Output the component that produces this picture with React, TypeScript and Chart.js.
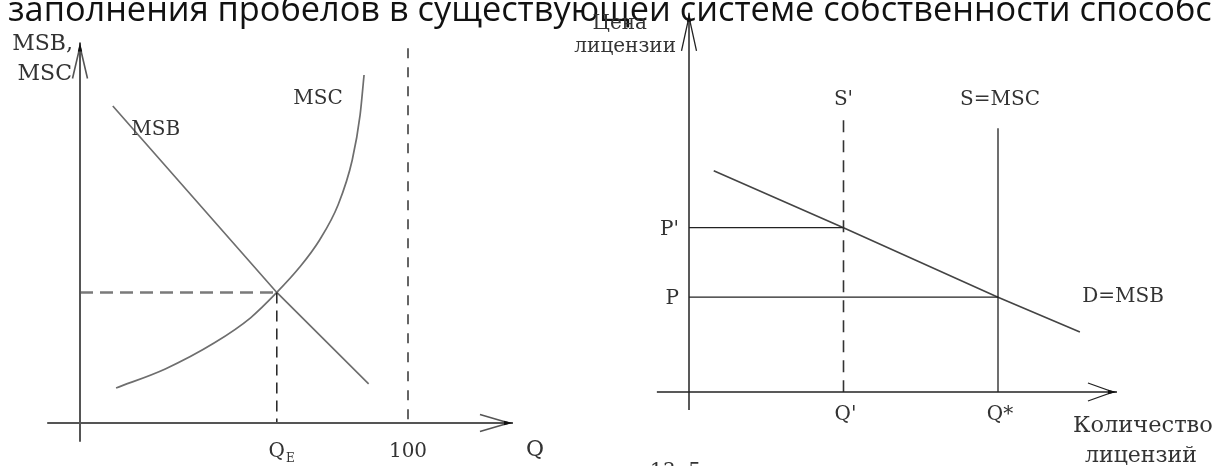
import React, { useEffect, useRef } from "react";
import { Chart, registerables } from "chart.js";

Chart.register(...registerables);

// ---------------- Left diagram (MSB / MSC) ----------------
const leftMSB = [
  { x: 10, y: 85 },
  { x: 60, y: 35 },
  { x: 88, y: 10.5 },
];
const leftMSC = [
  { x: 11, y: 9.4 },
  { x: 26, y: 14.5 },
  { x: 41, y: 21.5 },
  { x: 52, y: 28.2 },
  { x: 60, y: 35 },
  { x: 67, y: 41.8 },
  { x: 73, y: 49 },
  { x: 78.7, y: 58.5 },
  { x: 83, y: 70.5 },
  { x: 85.4, y: 82.6 },
  { x: 86.6, y: 93.3 },
];
const leftQE = 60;
const leftPE = 35;
const leftCapacityQ = 100;
const leftCapacityTop = 100.5;
const leftXAxisExtent = [-10, 132];
const leftYAxisExtent = [-5, 102];
const leftTickValues = [60, 100];
const leftTickLabels = ["Q", "100"];
const leftTickSubs = ["E", ""];
const leftYTitle = ["MSB,", "MSC"];
const leftXTitle = "Q";
const leftCurveNames = ["MSB", "MSC"];

// ---------------- Right diagram (licences) ----------------
const rightDemand = [
  { x: 8, y: 70 },
  { x: 50, y: 52 },
  { x: 100, y: 30 },
  { x: 126.5, y: 19 },
];
const rightQPrime = 50;
const rightQStar = 100;
const rightPPrime = 52;
const rightPStar = 30;
const rightSPrimeTop = 86;
const rightSTop = 83.5;
const rightXAxisExtent = [-10.4, 138.5];
const rightYAxisExtent = [-5.7, 120];
const rightXTickValues = [50, 100];
const rightXTickLabels = ["Q'", "Q*"];
const rightYTickValues = [52, 30];
const rightYTickLabels = ["P'", "P"];
const rightYTitle = ["Цена", "лицензии"];
const rightXTitle = ["Количество", "лицензий"];
const rightSupplyNames = ["S'", "S=MSC"];
const rightDemandName = "D=MSB";

const topText = "заполнения пробелов в существующей системе собственности способс";
const bottomText = "13. 5";

const W = 1217;
const H = 466;
const SERIF = '"DejaVu Serif", "Liberation Serif", serif';

type Arrow = { x: number; y: number; dx: number; dy: number; len: number; half: number; color: string; width: number };
type Label = {
  text: string;
  x: number;
  y: number;
  dx?: number;
  dy?: number;
  align?: CanvasTextAlign;
  size?: number;
  color?: string;
  sub?: string;
};

function diagramPlugin(arrows: Arrow[], labels: Label[], extra?: (ctx: CanvasRenderingContext2D) => void) {
  return {
    id: "diagram",
    afterDatasetsDraw(chart: any) {
      const ctx: CanvasRenderingContext2D = chart.ctx;
      const xs = chart.scales.x;
      const ys = chart.scales.y;
      ctx.save();
      for (const a of arrows) {
        const tx = xs.getPixelForValue(a.x);
        const ty = ys.getPixelForValue(a.y);
        const bx = -a.dx, by = -a.dy;
        const px = -by, py = bx;
        ctx.strokeStyle = a.color;
        ctx.lineWidth = a.width;
        ctx.beginPath();
        ctx.moveTo(tx + bx * a.len + px * a.half, ty + by * a.len + py * a.half);
        ctx.lineTo(tx + bx * 4, ty + by * 4);
        ctx.lineTo(tx + bx * a.len - px * a.half, ty + by * a.len - py * a.half);
        ctx.stroke();
        ctx.fillStyle = "#111";
        ctx.beginPath();
        ctx.moveTo(tx, ty);
        ctx.lineTo(tx + bx * 9 + px * 2.2, ty + by * 9 + py * 2.2);
        ctx.lineTo(tx + bx * 9 - px * 2.2, ty + by * 9 - py * 2.2);
        ctx.closePath();
        ctx.fill();
      }
      for (const l of labels) {
        const size = l.size ?? 20;
        ctx.font = `${size}px ${SERIF}`;
        ctx.fillStyle = l.color ?? "#333";
        ctx.textAlign = l.align ?? "center";
        ctx.textBaseline = "middle";
        const x = xs.getPixelForValue(l.x) + (l.dx ?? 0);
        const y = ys.getPixelForValue(l.y) + (l.dy ?? 0);
        ctx.fillText(l.text, x, y);
        if (l.sub) {
          const w = ctx.measureText(l.text).width;
          const start = (l.align ?? "center") === "center" ? x + w / 2 : x + w;
          ctx.font = `${Math.round(size * 0.6)}px ${SERIF}`;
          ctx.textAlign = "left";
          ctx.fillText(l.sub, start + 1, y + size * 0.35);
        }
      }
      if (extra) extra(ctx);
      ctx.restore();
    },
  };
}

function line(data: { x: number; y: number }[], color: string, width: number, dash: number[] = [], smooth = false) {
  return {
    data,
    showLine: true,
    borderColor: color,
    borderWidth: width,
    borderDash: dash,
    pointRadius: 0,
    fill: false,
    clip: false as any,
    cubicInterpolationMode: smooth ? ("monotone" as const) : ("default" as const),
    tension: 0,
  };
}

// Layout of a diagram: pixel of the origin, pixels per unit, and the value range the scales cover
function options(
  origin: [number, number],
  perUnit: [number, number],
  xRange: [number, number],
  yRange: [number, number]
) {
  const [ox, oy] = origin;
  const [kx, ky] = perUnit;
  const padding = {
    left: ox + xRange[0] * kx,
    right: W - (ox + xRange[1] * kx),
    top: oy - yRange[1] * ky,
    bottom: H - (oy - yRange[0] * ky),
  };
  return {
    responsive: false,
    animation: false as const,
    devicePixelRatio: 1,
    events: [] as any[],
    layout: { padding },
    scales: {
      x: { type: "linear" as const, min: xRange[0], max: xRange[1], display: false },
      y: { type: "linear" as const, min: yRange[0], max: yRange[1], display: false },
    },
    plugins: { legend: { display: false }, tooltip: { enabled: false } },
  };
}

function buildLeft(canvas: HTMLCanvasElement) {
  const axisColor = "#555";
  const curveColor = "#6e6e6e";
  const datasets = [
    line([{ x: leftXAxisExtent[0], y: 0 }, { x: leftXAxisExtent[1], y: 0 }], axisColor, 2),
    line([{ x: 0, y: leftYAxisExtent[0] }, { x: 0, y: leftYAxisExtent[1] }], axisColor, 2),
    line([{ x: 0, y: leftPE }, { x: leftQE, y: leftPE }], "#7a7a7a", 2.5, [13, 7]),
    line([{ x: leftQE, y: leftPE }, { x: leftQE, y: 0 }], "#222", 1.5, [11, 7]),
    line([{ x: leftCapacityQ, y: leftCapacityTop }, { x: leftCapacityQ, y: 0 }], "#333", 1.5, [10, 9]),
    line(leftMSB, curveColor, 1.7),
    line(leftMSC, curveColor, 1.7, [], true),
  ];
  const arrows: Arrow[] = [
    { x: leftXAxisExtent[1], y: 0, dx: 1, dy: 0, len: 33, half: 8.5, color: axisColor, width: 1.6 },
    { x: 0, y: leftYAxisExtent[1], dx: 0, dy: -1, len: 36, half: 7.5, color: axisColor, width: 1.6 },
  ];
  const labels: Label[] = [
    ...leftTickValues.map((v, i) => ({ text: leftTickLabels[i], sub: leftTickSubs[i] || undefined, x: v, y: 0, dy: 29, size: 20 })),
    { text: leftXTitle, x: leftXAxisExtent[1], y: 0, dx: 22, dy: 27, size: 22 },
    { text: leftYTitle[0], x: 0, y: leftYAxisExtent[1], dx: -7, dy: 2, align: "right", size: 22 },
    { text: leftYTitle[1], x: 0, y: leftYAxisExtent[1], dx: -8, dy: 32, align: "right", size: 22 },
    { text: leftCurveNames[0], x: 10, y: 85, dx: 43, dy: 24, size: 20 },
    { text: leftCurveNames[1], x: 86.6, y: 93.3, dx: -46, dy: 24, size: 20 },
  ];
  const extra = (ctx: CanvasRenderingContext2D) => {
    ctx.font = '34.3px "Open Sans", "Noto Sans", sans-serif';
    ctx.fillStyle = "#111";
    ctx.textAlign = "left";
    ctx.textBaseline = "alphabetic";
    ctx.fillText(topText, 8, 21);
    ctx.font = `20px ${SERIF}`;
    ctx.fillStyle = "#333";
    ctx.fillText(bottomText, 650, 477);
  };
  return new Chart(canvas, {
    type: "scatter",
    data: { datasets: datasets as any },
    options: options([80, 423], [3.28, 3.73], [-15, 135], [-6, 105]) as any,
    plugins: [diagramPlugin(arrows, labels, extra) as any],
  });
}

function buildRight(canvas: HTMLCanvasElement) {
  const axisColor = "#222";
  const datasets = [
    line([{ x: rightXAxisExtent[0], y: 0 }, { x: rightXAxisExtent[1], y: 0 }], axisColor, 1.5),
    line([{ x: 0, y: rightYAxisExtent[0] }, { x: 0, y: rightYAxisExtent[1] }], axisColor, 1.5),
    line([{ x: rightQPrime, y: rightSPrimeTop }, { x: rightQPrime, y: 0 }], "#333", 1.6, [12, 8]),
    line([{ x: rightQStar, y: rightSTop }, { x: rightQStar, y: 0 }], "#222", 1.3),
    line([{ x: 0, y: rightPPrime }, { x: rightQPrime, y: rightPPrime }], "#222", 1.3),
    line([{ x: 0, y: rightPStar }, { x: rightQStar, y: rightPStar }], "#222", 1.3),
    line(rightDemand, "#444", 1.6),
  ];
  const arrows: Arrow[] = [
    { x: rightXAxisExtent[1], y: 0, dx: 1, dy: 0, len: 29, half: 9, color: axisColor, width: 1.3 },
    { x: 0, y: rightYAxisExtent[1], dx: 0, dy: -1, len: 38, half: 7.5, color: axisColor, width: 1.3 },
  ];
  const labels: Label[] = [
    ...rightXTickValues.map((v, i) => ({ text: rightXTickLabels[i], x: v, y: 0, dx: 2, dy: 23, size: 20 })),
    ...rightYTickValues.map((v, i) => ({ text: rightYTickLabels[i], x: 0, y: v, dx: -10, dy: 2, align: "right" as CanvasTextAlign, size: 20 })),
    { text: rightYTitle[0], x: 0, y: rightYAxisExtent[1], dx: -42, dy: 11, align: "right", size: 20 },
    { text: rightYTitle[1], x: 0, y: rightYAxisExtent[1], dx: -13, dy: 34, align: "right", size: 20 },
    { text: rightXTitle[0], x: rightXAxisExtent[1], y: 0, dx: 26, dy: 34, size: 22.5 },
    { text: rightXTitle[1], x: rightXAxisExtent[1], y: 0, dx: 24, dy: 64, size: 22 },
    { text: rightSupplyNames[0], x: rightQPrime, y: rightSPrimeTop, dx: 0, dy: -20, size: 20 },
    { text: rightSupplyNames[1], x: rightQStar, y: rightSTop, dx: 2, dy: -28, size: 20 },
    { text: rightDemandName, x: rightQStar, y: rightPStar, dx: 125, dy: 0, size: 20 },
  ];
  return new Chart(canvas, {
    type: "scatter",
    data: { datasets: datasets as any },
    options: options([689, 392], [3.09, 3.16], [-15, 140], [-8, 122]) as any,
    plugins: [diagramPlugin(arrows, labels) as any],
  });
}

export default function App() {
  const leftRef = useRef<HTMLCanvasElement>(null);
  const rightRef = useRef<HTMLCanvasElement>(null);

  useEffect(() => {
    const c1 = buildLeft(leftRef.current!);
    const c2 = buildRight(rightRef.current!);
    return () => {
      c1.destroy();
      c2.destroy();
    };
  }, []);

  const canvasStyle: React.CSSProperties = { position: "absolute", left: 0, top: 0, width: W, height: H };
  return (
    <div style={{ position: "absolute", left: 0, top: 0, width: W, height: H, overflow: "hidden", background: "#fff" }}>
      <canvas ref={leftRef} width={W} height={H} style={canvasStyle} />
      <canvas ref={rightRef} width={W} height={H} style={canvasStyle} />
    </div>
  );
}
